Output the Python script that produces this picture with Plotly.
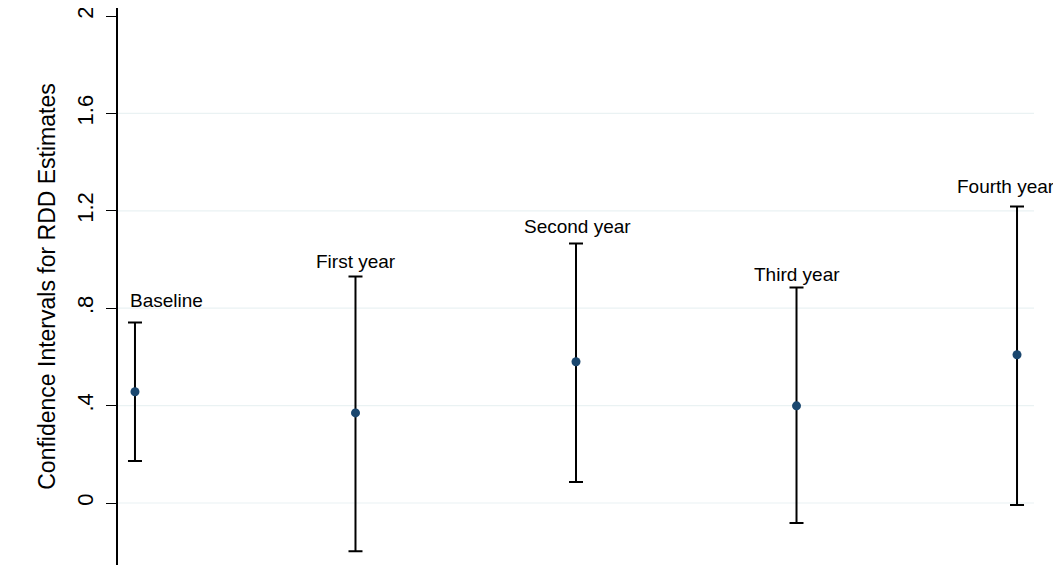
import plotly.graph_objects as go

periods = ["Baseline", "First year", "Second year", "Third year", "Fourth year"]
xpos = [1, 2, 3, 4, 5]
estimates = [0.457, 0.370, 0.580, 0.399, 0.609]
upper = [0.741, 0.930, 1.066, 0.885, 1.218]
lower = [0.173, -0.198, 0.086, -0.082, -0.008]
tick_vals = [0, 0.4, 0.8, 1.2, 1.6, 2]
tick_text = ["0", ".4", ".8", "1.2", "1.6", "2"]

FONT = "Liberation Sans, Arial, Helvetica, sans-serif"

fig = go.Figure()

# light horizontal gridlines (none at the top tick, as in the original)
for tv in tick_vals[:-1]:
    fig.add_shape(type="line", xref="paper", yref="y", x0=0, x1=1, y0=tv, y1=tv,
                  line=dict(color="#eaf2f3", width=1.2), layer="below")

fig.add_trace(go.Scatter(
    x=xpos, y=estimates, mode="markers",
    marker=dict(color="#1a476f", size=9),
    error_y=dict(type="data", symmetric=False,
                 array=[u - e for u, e in zip(upper, estimates)],
                 arrayminus=[e - l for e, l in zip(estimates, lower)],
                 color="black", thickness=2, width=7),
    showlegend=False,
))

anchors = ["left", "center", "center", "center", "right"]
xshifts = [-7, 1, 1, 0, 40]
yshifts = [22, 15, 17, 13, 20]
for xv, u, name, a, sx, sy in zip(xpos, upper, periods, anchors, xshifts, yshifts):
    fig.add_annotation(x=xv, y=u, text=name, showarrow=False,
                       xanchor=a, yanchor="middle", yshift=sy, xshift=sx,
                       font=dict(family=FONT, size=19, color="black"))

fig.update_layout(
    width=1053, height=576,
    margin=dict(l=110, r=27, t=0, b=19, autoexpand=False),
    paper_bgcolor="white", plot_bgcolor="white",
    font=dict(family=FONT, color="black"),
    xaxis=dict(range=[0.923, 5.077], showgrid=False, zeroline=False,
               showticklabels=False, showline=False, ticks=""),
    yaxis=dict(range=[-0.2546, 2.0329], tickvals=tick_vals, ticktext=tick_text,
               tickangle=-90, tickfont=dict(size=22), ticks="outside",
               ticklen=10, tickcolor="black", tickwidth=1,
               ticklabelstandoff=4, ticklabeloverflow="allow",
               showline=True, linecolor="black", linewidth=1.5,
               showgrid=False, zeroline=False,
               title=dict(text="Confidence Intervals for RDD Estimates",
                          font=dict(size=23), standoff=11)),
)

fig.write_html("out.html")
